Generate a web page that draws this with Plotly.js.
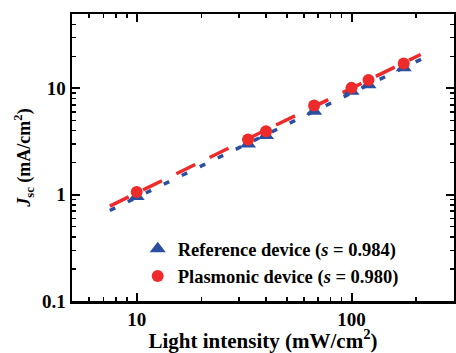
<!DOCTYPE html>
<html>
<head>
<meta charset="utf-8">
<script src="https://cdn.plot.ly/plotly-3.0.1.min.js"></script>
<style>html,body{margin:0;padding:0;background:#fff;}#chart{width:456px;height:353px;}</style>
</head>
<body>
<div id="chart"></div>
<script>
// Light intensity (mW/cm^2)
const intensity = [10, 33, 40, 67, 100, 120, 175];
// Jsc (mA/cm^2)
const jscReference = [0.96, 3.0, 3.6, 6.1, 9.4, 10.8, 15.6];
const jscPlasmonic = [1.06, 3.3, 3.95, 6.9, 10.1, 12.0, 17.1];
// Power-law fit lines (read endpoints)
const fitRefX = [7.5, 232];
const fitRefY = [0.71, 20.6];
const fitPlasX = [7.5, 210];
const fitPlasY = [0.78, 20.8];
const legendNames = ['Reference device (<i>s</i> = 0.984)', 'Plasmonic device (<i>s</i> = 0.980)'];

const blue = '#2a4fa0';
const red = '#ee2a2a';
const fontFam = 'Liberation Serif, Times New Roman, serif';

const traces = [
  {x: fitRefX, y: fitRefY, mode: 'lines', line: {color: blue, width: 3.5, dash: '6px,14px'}, showlegend: false, hoverinfo: 'skip'},
  {x: fitPlasX, y: fitPlasY, mode: 'lines', line: {color: red, width: 3.5, dash: '21px,16px'}, showlegend: false, hoverinfo: 'skip'},
  {x: intensity, y: jscReference, mode: 'markers', name: legendNames[0], marker: {symbol: 'triangle-up', size: 14, color: blue}},
  {x: intensity, y: jscPlasmonic, mode: 'markers', name: legendNames[1], marker: {symbol: 'circle', size: 12, color: red}}
];

const axisCommon = {
  type: 'log', showline: true, linecolor: '#000', linewidth: 2.5, mirror: 'ticks',
  ticks: 'inside', ticklen: 8, tickwidth: 2, tickcolor: '#000', showgrid: false, zeroline: false,
  dtick: 1,
  tickfont: {family: fontFam, size: 19, color: '#000', weight: 'bold'},
  minor: {ticks: 'inside', ticklen: 4, tickwidth: 1.5, tickcolor: '#000', dtick: 'D1', showgrid: false}
};

const layout = {
  width: 456, height: 353,
  margin: {l: 72, r: 2, t: 14, b: 52},
  paper_bgcolor: '#fff', plot_bgcolor: '#fff',
  font: {family: fontFam, color: '#000'},
  xaxis: Object.assign({}, axisCommon, {
    range: [Math.log10(5), Math.log10(300)],
    title: {text: 'Light intensity (mW/cm<sup>2</sup>)', font: {family: fontFam, size: 21, weight: 'bold', color: '#000'}, standoff: 6}
  }),
  yaxis: Object.assign({}, axisCommon, {
    range: [-1, Math.log10(50)],
    title: {text: '<i>J</i><sub>sc</sub> (mA/cm<sup>2</sup>)', font: {family: fontFam, size: 18, weight: 'bold', color: '#000'}, standoff: 7}
  }),
  legend: {x: 0.172, y: 0.133, xanchor: 'left', yanchor: 'middle', bgcolor: 'rgba(0,0,0,0)', borderwidth: 0,
    font: {family: fontFam, size: 18.5, weight: 'bold', color: '#000'}, tracegroupgap: 0},
  showlegend: true
};

Plotly.newPlot('chart', traces, layout, {displayModeBar: false, staticPlot: true});
</script>
</body>
</html>
